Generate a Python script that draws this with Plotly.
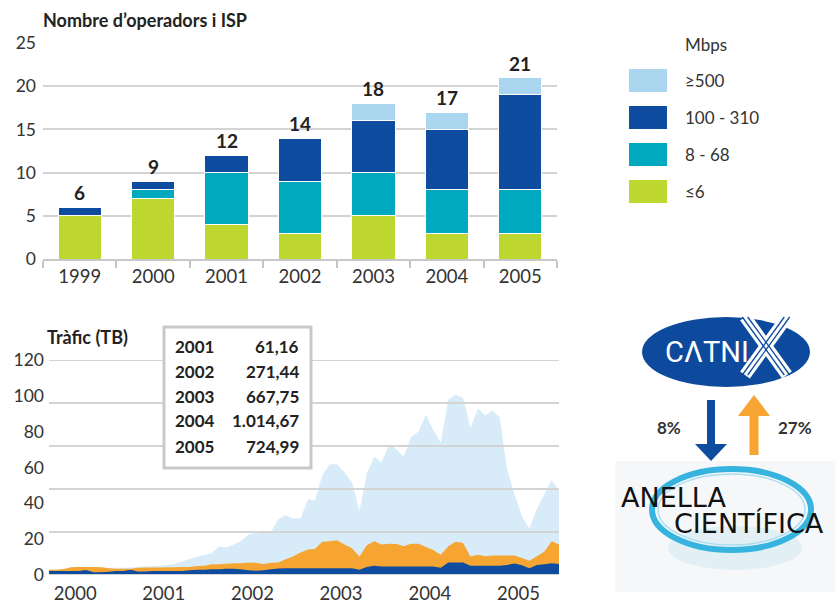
import plotly.graph_objects as go
import pandas as pd

# ---------------- data ----------------
years = ["1999", "2000", "2001", "2002", "2003", "2004", "2005"]
ops_le6 = [5, 7, 4, 3, 5, 3, 3]
ops_8_68 = [0, 1, 6, 6, 5, 5, 5]
ops_100_310 = [1, 1, 2, 5, 6, 7, 11]
ops_ge500 = [0, 0, 0, 0, 2, 2, 2]
ops_totals = [6, 9, 12, 14, 18, 17, 21]
legend_labels = ["≥500", "100 - 310", "8 - 68", "≤6"]

# monthly traffic (TB), Mar 2000 .. Dec 2005
traffic_total = [3.0, 3.0, 3.3, 4.5, 4.6, 4.6, 4.5, 4.3, 4.0, 4.0,
                 4.0, 4.2, 4.5, 4.8, 5.0, 5.2, 5.6, 6.3, 7.5, 9.0,
                 10.2, 11.0, 12.3, 16.0, 15.4, 17.0, 19.0, 22.6, 23.5, 25.0,
                 24.0, 31.0, 33.5, 31.5, 31.5, 42.4, 41.4, 55.5, 61.8, 61.8,
                 57.4, 51.8, 35.8, 56.5, 66.0, 63.0, 73.0, 70.0, 66.0, 77.0,
                 80.0, 89.5, 81.0, 74.0, 98.0, 100.5, 99.0, 82.0, 93.0, 89.0,
                 92.0, 88.0, 59.0, 45.0, 33.0, 26.0, 37.0, 45.0, 53.0, 47.0]
traffic_orange = [3.0, 3.0, 3.3, 4.3, 4.5, 4.5, 4.5, 4.3, 3.8, 3.5,
                  3.5, 3.5, 4.0, 4.2, 4.2, 4.2, 4.3, 4.3, 4.5, 4.5,
                  5.0, 5.2, 6.0, 6.0, 6.3, 6.5, 6.5, 7.0, 6.8, 6.2,
                  6.8, 7.0, 8.8, 10.3, 12.5, 14.3, 14.5, 18.5, 18.8, 19.4,
                  17.0, 15.0, 10.3, 16.6, 18.8, 17.0, 17.5, 17.3, 16.0, 17.5,
                  17.5, 15.6, 14.0, 11.3, 16.0, 18.5, 17.9, 10.3, 11.3, 10.5,
                  10.9, 10.9, 10.9, 10.9, 9.5, 7.9, 10.5, 13.0, 18.8, 17.0]
traffic_dark = [2.2, 2.2, 2.2, 2.2, 2.2, 2.8, 1.6, 1.5, 1.8, 2.2,
                2.2, 3.0, 2.0, 2.0, 2.2, 2.2, 2.2, 2.2, 2.2, 2.6,
                3.0, 3.0, 3.2, 3.2, 3.5, 3.5, 3.2, 2.6, 2.4, 2.6,
                3.2, 3.6, 3.8, 3.8, 3.8, 3.8, 3.8, 3.8, 3.8, 3.8,
                3.8, 3.8, 3.0, 4.5, 5.1, 4.8, 4.7, 4.7, 4.7, 4.7,
                4.7, 4.7, 4.7, 4.1, 7.0, 7.0, 7.0, 5.2, 5.1, 5.1,
                5.1, 5.1, 5.6, 6.4, 5.5, 3.8, 5.6, 6.0, 6.6, 6.2]
traffic_dates = pd.date_range("2000-03-01", "2005-12-01", freq="MS") + pd.Timedelta(days=14)
traffic_year_labels = ["2000", "2001", "2002", "2003", "2004", "2005"]
table_years = ["2001", "2002", "2003", "2004", "2005"]
table_values = ["61,16", "271,44", "667,75", "1.014,67", "724,99"]
flow_down = "8%"
flow_up = "27%"

# ---------------- style ----------------
W, H = 835, 604
GREEN = "#bed630"
TEAL = "#00a9be"
DARK = "#0e4ca0"
LIGHT = "#abd6f0"
PALE = "#d7ecf8"
ORANGE = "#f6a532"
GRID = "#d4d4d4"
TXT = "#333333"
FONT = "Lato"


def px(x):
    return x / W


def py(y):
    return 1 - y / H


fig = go.Figure()

# ---- top chart: stacked bars ----
for vals, col in [(ops_le6, GREEN), (ops_8_68, TEAL), (ops_100_310, DARK), (ops_ge500, LIGHT)]:
    fig.add_bar(x=years, y=vals, marker=dict(color=col, line=dict(color="white", width=1)),
                xaxis="x", yaxis="y", showlegend=False)

# ---- bottom chart: traffic areas ----
for vals, col in [(traffic_total, PALE), (traffic_orange, ORANGE), (traffic_dark, DARK)]:
    fig.add_scatter(x=traffic_dates, y=vals, mode="none", fill="tozeroy", fillcolor=col,
                    xaxis="x2", yaxis="y2", showlegend=False)

annotations = []
shapes = []


def ann(text, x, y, xanchor="left", size=17, color=TXT, bold=False, family=FONT, yanchor="middle"):
    annotations.append(dict(text=f"<b>{text}</b>" if bold else text, x=px(x), y=py(y),
                            xref="paper", yref="paper", xanchor=xanchor, yanchor=yanchor,
                            showarrow=False, font=dict(size=size, color=color, family=family)))


# totals above bars (x given as category index)
for i, t in enumerate(ops_totals):
    annotations.append(dict(text=f"<b>{t}</b>", x=i, y=t, xref="x", yref="y", yanchor="bottom",
                            yshift=1, showarrow=False, font=dict(size=19, color="#222", family=FONT)))

ann("Nombre d’operadors i ISP", 41, 20, size=18, bold=True, color="#222")
ann("Tràfic (TB)", 45, 337, size=18, bold=True, color="#222")

# legend
ann("Mbps", 683, 44, size=17)
sw_cols = [LIGHT, DARK, TEAL, GREEN]
for i, (lab, col) in enumerate(zip(legend_labels, sw_cols)):
    yc = 80.5 + 37 * i
    shapes.append(dict(type="rect", xref="paper", yref="paper", x0=px(629), x1=px(667),
                       y0=py(yc + 11.5), y1=py(yc - 11.5), fillcolor=col, line=dict(width=0)))
    ann(lab, 683, yc, size=17)

# bottom chart gridlines (drawn above the areas, 24-unit spacing as in the original)
for v in [0, 24, 48, 72, 96, 120]:
    shapes.append(dict(type="line", xref="x2 domain", yref="y2", x0=0, x1=1, y0=v, y1=v,
                       line=dict(color=GRID, width=2), layer="above"))

# table box
shapes.append(dict(type="rect", xref="paper", yref="paper", x0=px(164), x1=px(311),
                   y0=py(468), y1=py(327), fillcolor="white", line=dict(color="#c9c9c9", width=3),
                   layer="above"))
for i, (yr, v) in enumerate(zip(table_years, table_values)):
    yc = 346 + 25 * i
    ann(yr, 173, yc, size=17, bold=True, color="#222")
    ann(v, 301, yc, xanchor="right", size=17, bold=True, color="#222")

# ---- CATNIX logo ----
shapes.append(dict(type="circle", xref="paper", yref="paper", x0=px(642), x1=px(810),
                   y0=py(387), y1=py(317), fillcolor="#0d4a9e", line=dict(width=0)))
ann("CΛTNI", 663, 352, size=29, color="white", family="Roboto")


def seg(x0, y0, x1, y1, col, w):
    shapes.append(dict(type="line", xref="paper", yref="paper", x0=px(x0), y0=py(y0),
                       x1=px(x1), y1=py(y1), line=dict(color=col, width=w)))


# striped X
for (a, b, c, d) in [(745, 317, 787, 375), (787, 317, 745, 375)]:
    seg(a, b, c, d, "white", 12)
for off in (-2.7, 2.7):
    seg(745 + off, 317, 787 + off, 375, "#0d4a9e", 1.3)
    seg(787 + off, 317, 745 + off, 375, "#0d4a9e", 1.3)


def path(points):
    return "M " + " L ".join(f"{px(x):.5f},{py(y):.5f}" for x, y in points) + " Z"


# arrows
shapes.append(dict(type="path", xref="paper", yref="paper", fillcolor="#0e4ca0", line=dict(width=0),
                   path=path([(707, 400), (715, 400), (715, 444), (727, 444), (711, 461),
                              (695, 444), (707, 444)])))
shapes.append(dict(type="path", xref="paper", yref="paper", fillcolor=ORANGE, line=dict(width=0),
                   path=path([(749.5, 455), (758.5, 455), (758.5, 416), (770, 416), (754, 395),
                              (738, 416), (749.5, 416)])))
ann(flow_down, 669, 427, xanchor="center", size=17, bold=True, color="#333")
ann(flow_up, 795, 427, xanchor="center", size=17, bold=True, color="#333")

# ---- Anella Cientifica logo ----
shapes.append(dict(type="rect", xref="paper", yref="paper", x0=px(615), x1=px(835),
                   y0=py(592), y1=py(461), fillcolor="#f6f7f9", line=dict(width=0)))
shapes.append(dict(type="circle", xref="paper", yref="paper", x0=px(668), x1=px(802),
                   y0=py(570), y1=py(526), fillcolor="#e2f0f6", line=dict(width=0)))
shapes.append(dict(type="circle", xref="paper", yref="paper", x0=px(652), x1=px(811),
                   y0=py(550), y1=py(469), line=dict(color="#37b3df", width=6)))
shapes.append(dict(type="circle", xref="paper", yref="paper", x0=px(658), x1=px(805),
                   y0=py(545), y1=py(474), line=dict(color="#a9def2", width=1.5)))
ann("ANELLA", 619, 497, size=27, color="#111", family="DejaVu Sans")
ann("CIENTÍFICA", 672, 523, size=27, color="#111", family="DejaVu Sans")

fig.update_layout(
    template="none",
    width=W, height=H, margin=dict(l=0, r=0, t=0, b=0, autoexpand=False),
    paper_bgcolor="white", plot_bgcolor="white",
    barmode="stack", bargap=0.41,
    font=dict(family=FONT, size=17, color=TXT),
    showlegend=False,
    xaxis=dict(domain=[px(43), px(557)], anchor="y", type="category", range=[-0.5, 6.5],
               tickson="boundaries", ticks="outside", ticklen=7, tickwidth=1.5, tickcolor="#c4c4c4",
               showline=True, linecolor="#c8c8c8", linewidth=2, showgrid=False, automargin=False,
               tickangle=0, tickfont=dict(size=18.5, color=TXT)),
    yaxis=dict(domain=[py(259), py(43)], anchor="x", range=[0, 25], dtick=5,
               gridcolor=GRID, gridwidth=1.5, zeroline=False, showline=False, automargin=False,
               ticks="", tickfont=dict(size=17.5, color=TXT), ticklabelstandoff=6),
    xaxis2=dict(domain=[px(49), px(559)], anchor="y2", type="date",
                range=[traffic_dates[0], traffic_dates[-1]],
                tickvals=[f"{y}-07-01" for y in traffic_year_labels], ticktext=traffic_year_labels,
                showgrid=False, zeroline=False, showline=False, ticks="", automargin=False,
                tickangle=0, ticklabelstandoff=5, tickfont=dict(size=18.5, color=TXT)),
    yaxis2=dict(domain=[py(575), py(360)], anchor="x2", range=[0, 120],
                tickvals=[0, 20, 40, 60, 80, 100, 120], showgrid=False, zeroline=False,
                ticks="", automargin=False,
                tickfont=dict(size=17.5, color=TXT), ticklabelstandoff=4),
    annotations=annotations,
    shapes=shapes,
)

fig.write_html("out.html", config={"displayModeBar": False},
               post_script="document.body.style.margin='0px';document.body.style.overflow='hidden';")
